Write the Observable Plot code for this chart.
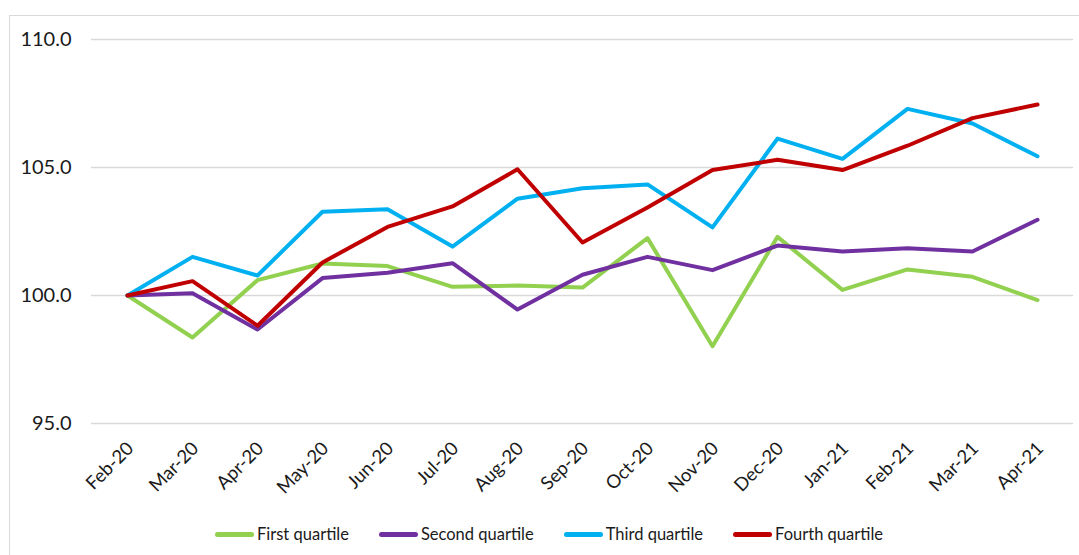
<!DOCTYPE html>
<html>
<head>
<meta charset="utf-8">
<script src="https://cdn.jsdelivr.net/npm/d3@7"></script>
<script src="https://cdn.jsdelivr.net/npm/@observablehq/plot@0.6"></script>
<style>
  html, body { margin: 0; padding: 0; background: #fff; }
  body { width: 1079px; height: 555px; position: relative; overflow: hidden; font-family: Lato, "Noto Sans", sans-serif; }
  #frame { position: absolute; left: 9px; top: 15px; width: 1100px; height: 600px;
           border-left: 1.5px solid #d9d9d9; border-top: 1.5px solid #d9d9d9; }
  #chart { position: absolute; left: 0; top: 0; }
  #legend { position: absolute; left: 215px; top: 524px; display: flex; align-items: center;
            font-size: 16.5px; color: #1a1a1a; white-space: nowrap; }
  .item { display: flex; align-items: center; margin-right: 30px; }
  .sw { width: 39px; height: 5px; border-radius: 3px; margin-right: 3px; }
</style>
</head>
<body>
<div id="frame"></div>
<div id="chart"></div>
<div id="legend"></div>
<script>
// Monthly index (Feb-20 = 100) by quartile
const months = ["Feb-20","Mar-20","Apr-20","May-20","Jun-20","Jul-20","Aug-20","Sep-20",
                "Oct-20","Nov-20","Dec-20","Jan-21","Feb-21","Mar-21","Apr-21"];
const firstQuartile  = [100.0, 98.36, 100.6, 101.25, 101.15, 100.34, 100.39, 100.31, 102.24, 98.02, 102.29, 100.22, 101.02, 100.73, 99.82];
const secondQuartile = [100.0, 100.09, 98.67, 100.68, 100.89, 101.26, 99.45, 100.81, 101.51, 100.99, 101.95, 101.72, 101.85, 101.72, 102.96];
const thirdQuartile  = [100.0, 101.51, 100.78, 103.27, 103.37, 101.91, 103.78, 104.19, 104.34, 102.66, 106.13, 105.34, 107.29, 106.72, 105.44];
const fourthQuartile = [100.0, 100.56, 98.82, 101.29, 102.68, 103.48, 104.93, 102.07, 103.44, 104.9, 105.3, 104.9, 105.85, 106.93, 107.46];
const seriesNames = ["First quartile", "Second quartile", "Third quartile", "Fourth quartile"];
const seriesColors = ["#92d050", "#7030a0", "#00b0f0", "#c00000"];
const yTicks = [95, 100, 105, 110];

const allSeries = [firstQuartile, secondQuartile, thirdQuartile, fourthQuartile];
const rows = allSeries.flatMap((vals, i) =>
  vals.map((v, j) => ({month: months[j], value: v, series: seriesNames[i]})));

const chart = Plot.plot({
  width: 1079,
  height: 510,
  marginLeft: 91,
  marginRight: 6,
  marginTop: 39,
  marginBottom: 87,
  style: {fontFamily: "Lato, 'Noto Sans', sans-serif", background: "transparent", color: "#1a1a1a"},
  x: {type: "point", domain: months, padding: 0.5, axis: null},
  y: {domain: [95, 110], axis: null},
  color: {domain: seriesNames, range: seriesColors},
  marks: [
    Plot.ruleY(yTicks, {stroke: "#d9d9d9", strokeWidth: 1.5}),
    Plot.axisY({ticks: yTicks, tickSize: 0, tickPadding: 20, fontSize: 20,
                tickFormat: d => d.toFixed(1), label: null}),
    Plot.text(months, {x: d => d, frameAnchor: "bottom", dy: 22, dx: 3, rotate: -45,
                       textAnchor: "end", lineAnchor: "middle", fontSize: 18.5, fill: "#1a1a1a"}),
    Plot.line(rows, {x: "month", y: "value", z: "series", stroke: "series",
                     strokeWidth: 4, strokeLinejoin: "round", strokeLinecap: "round"})
  ]
});
document.getElementById("chart").appendChild(chart);

const legend = document.getElementById("legend");
seriesNames.forEach((name, i) => {
  const item = document.createElement("div");
  item.className = "item";
  const sw = document.createElement("span");
  sw.className = "sw";
  sw.style.background = seriesColors[i];
  const label = document.createElement("span");
  label.textContent = name;
  item.appendChild(sw);
  item.appendChild(label);
  legend.appendChild(item);
});
</script>
</body>
</html>
